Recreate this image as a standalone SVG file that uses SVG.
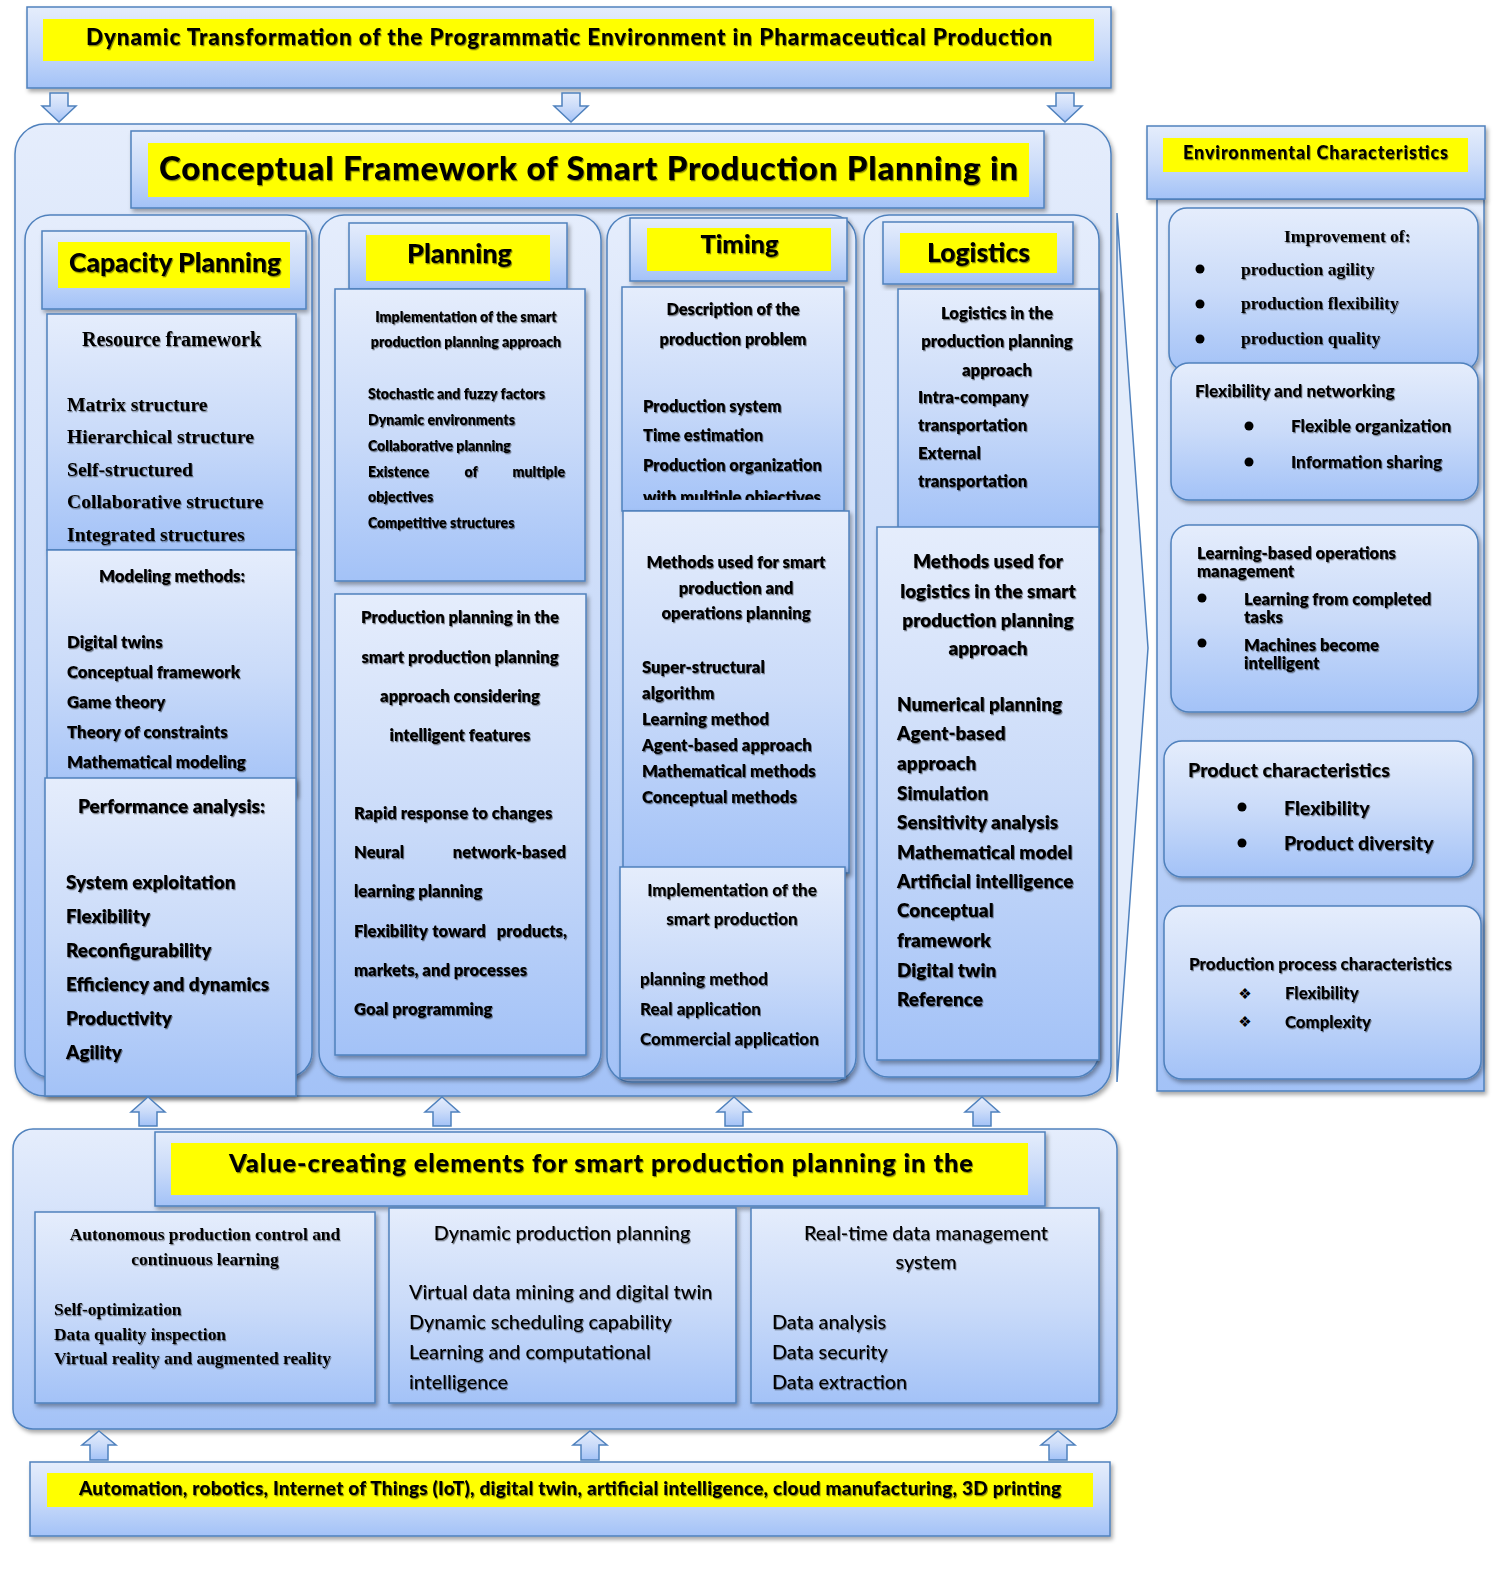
<svg xmlns="http://www.w3.org/2000/svg" width="1500" height="1593" viewBox="0 0 1500 1593">
<defs>
<linearGradient id="g" x1="0" y1="0" x2="0" y2="1">
<stop offset="0" stop-color="#e5edfc"/>
<stop offset="0.5" stop-color="#cadbf9"/>
<stop offset="1" stop-color="#a3c2f7"/>
</linearGradient>
<filter id="bs" x="-5%" y="-5%" width="115%" height="115%">
<feDropShadow dx="2" dy="3" stdDeviation="2" flood-color="#000" flood-opacity="0.35"/>
</filter>
<filter id="ts" x="-3%" y="-30%" width="106%" height="160%">
<feDropShadow dx="1" dy="1.3" stdDeviation="0.7" flood-color="#000" flood-opacity="0.45"/>
</filter>
<clipPath id="cdesc"><rect x="622" y="287" width="222" height="213"/></clipPath>
</defs>
<style>
.b{fill:url(#g);stroke:#4f81bd;stroke-width:1.5;filter:url(#bs)}
.y{fill:#ffff00}
.f{font-family:Lato,"Liberation Sans",sans-serif;font-weight:800;fill:#000;filter:url(#ts)}
.s{font-family:"Liberation Serif",serif;font-weight:700;fill:#000;filter:url(#ts)}
.r{font-weight:500}
.k{font-weight:900}
.c{text-anchor:middle}
.e{text-anchor:end}
.a{fill:url(#g);stroke:#4f81bd;stroke-width:1.5}
.d{fill:#000}
</style>

<g id="top-environment">
<rect class="b" x="27" y="7" width="1084" height="81"/>
<rect class="y" x="43" y="19" width="1051" height="42"/>
<text class="f c k" x="569" y="45" font-size="22.5" textLength="966">Dynamic Transformation of the Programmatic Environment in Pharmaceutical Production</text>
</g>

<g id="framework">
<rect class="b" x="15" y="124" width="1096" height="972" rx="30"/>
<polygon points="1117,213 1148,648 1117,1082" fill="#e3ecfb" stroke="#4f81bd" stroke-width="1.5"/>
<rect class="b" x="131" y="131" width="913" height="77"/>
<rect class="y" x="148" y="143" width="881" height="54"/>
<text class="f c k" x="588.5" y="180" font-size="33" textLength="859">Conceptual Framework of Smart Production Planning in</text>
</g>

<g id="capacity-planning">
<rect class="b" x="25" y="215" width="287" height="862" rx="25"/>
<rect class="b" x="42" y="231" width="264" height="78"/>
<rect class="y" x="58" y="242" width="232" height="46"/>
<text class="f c k" x="175" y="272" font-size="26.5">Capacity Planning</text>
</g>
<g id="resource-framework">
<rect class="b" x="47" y="314" width="249" height="236"/>
<text class="s c" x="171.5" y="346" font-size="20">Resource framework</text>
<text class="s" font-size="19.6"><tspan x="67" y="411">Matrix structure</tspan><tspan x="67" y="443">Hierarchical structure</tspan><tspan x="67" y="476">Self-structured</tspan><tspan x="67" y="508">Collaborative structure</tspan><tspan x="67" y="541">Integrated structures</tspan></text>
</g>
<g id="modeling-methods">
<rect class="b" x="47" y="550" width="249" height="245"/>
<text class="f c" x="172" y="582" font-size="16.8">Modeling methods:</text>
<text class="f" font-size="16.8"><tspan x="67" y="648">Digital twins</tspan><tspan x="67" y="678">Conceptual framework</tspan><tspan x="67" y="708">Game theory</tspan><tspan x="67" y="738">Theory of constraints</tspan><tspan x="67" y="768">Mathematical modeling</tspan></text>
</g>
<g id="performance-analysis">
<rect class="b" x="45" y="778" width="251" height="318"/>
<text class="f c" x="171.5" y="813" font-size="19">Performance analysis:</text>
<text class="f" font-size="18.9"><tspan x="66" y="889">System exploitation</tspan><tspan x="66" y="923">Flexibility</tspan><tspan x="66" y="957">Reconfigurability</tspan><tspan x="66" y="991">Efficiency and dynamics</tspan><tspan x="66" y="1025">Productivity</tspan><tspan x="66" y="1059">Agility</tspan></text>
</g>

<g id="planning">
<rect class="b" x="319" y="215" width="282" height="862" rx="25"/>
<rect class="b" x="349" y="223" width="218" height="66"/>
<rect class="y" x="366" y="235" width="184" height="46"/>
<text class="f c k" x="459.5" y="263" font-size="27">Planning</text>
</g>
<g id="planning-implementation">
<rect class="b" x="335" y="289" width="250" height="292"/>
<text class="f c" font-size="14.1"><tspan x="466" y="322">Implementation of the smart</tspan><tspan x="466" y="347">production planning approach</tspan></text>
<text class="f" font-size="14.1"><tspan x="368" y="399">Stochastic and fuzzy factors</tspan><tspan x="368" y="425">Dynamic environments</tspan><tspan x="368" y="451">Collaborative planning</tspan><tspan x="368" y="477">Existence</tspan><tspan x="368" y="502">objectives</tspan><tspan x="368" y="528">Competitive structures</tspan></text>
<text class="f c" x="471" y="477" font-size="14.1">of</text>
<text class="f e" x="565" y="477" font-size="14.1">multiple</text>
</g>
<g id="planning-production">
<rect class="b" x="335" y="594" width="251" height="461"/>
<text class="f c" font-size="16.6"><tspan x="460" y="623">Production planning in the</tspan><tspan x="460" y="663">smart production planning</tspan><tspan x="460" y="702">approach considering</tspan><tspan x="460" y="741">intelligent features</tspan></text>
<text class="f" font-size="16.6"><tspan x="354" y="819">Rapid response to changes</tspan><tspan x="354" y="858">Neural</tspan><tspan x="354" y="897">learning planning</tspan><tspan x="354" y="937">Flexibility</tspan><tspan x="354" y="976">markets, and processes</tspan><tspan x="354" y="1015">Goal programming</tspan></text>
<text class="f e" x="566" y="858" font-size="16.6">network-based</text>
<text class="f c" x="459" y="937" font-size="16.6">toward</text>
<text class="f e" x="567" y="937" font-size="16.6">products,</text>
</g>

<g id="timing">
<rect class="b" x="607" y="215" width="249" height="867" rx="25"/>
<rect class="b" x="630" y="218" width="217" height="63"/>
<rect class="y" x="647" y="228" width="184" height="43"/>
<text class="f c k" x="739.5" y="253" font-size="25.5">Timing</text>
</g>
<g id="timing-description">
<rect class="b" x="622" y="287" width="222" height="224"/>
<text class="f c" font-size="16.4"><tspan x="733" y="315">Description of the</tspan><tspan x="733" y="345">production problem</tspan></text>
<g clip-path="url(#cdesc)"><text class="f" font-size="16.4"><tspan x="643" y="412">Production system</tspan><tspan x="643" y="441">Time estimation</tspan><tspan x="643" y="471">Production organization</tspan><tspan x="643" y="503">with multiple objectives</tspan></text></g>
</g>
<g id="timing-methods">
<rect class="b" x="623" y="511" width="226" height="362"/>
<text class="f c" font-size="16.7"><tspan x="736" y="568">Methods used for smart</tspan><tspan x="736" y="594">production and</tspan><tspan x="736" y="619">operations planning</tspan></text>
<text class="f" font-size="16.7"><tspan x="642" y="673">Super-structural</tspan><tspan x="642" y="699">algorithm</tspan><tspan x="642" y="725">Learning method</tspan><tspan x="642" y="751">Agent-based approach</tspan><tspan x="642" y="777">Mathematical methods</tspan><tspan x="642" y="803">Conceptual methods</tspan></text>
</g>
<g id="timing-implementation">
<rect class="b" x="620" y="867" width="225" height="211"/>
<text class="f c k" font-size="17"><tspan x="732" y="896">Implementation of the</tspan><tspan x="732" y="925">smart production</tspan></text>
<text class="f k" font-size="17"><tspan x="640" y="985">planning method</tspan><tspan x="640" y="1015">Real application</tspan><tspan x="640" y="1045">Commercial application</tspan></text>
</g>

<g id="logistics">
<rect class="b" x="864" y="215" width="235" height="862" rx="25"/>
<rect class="b" x="883" y="222" width="190" height="62"/>
<rect class="y" x="900" y="233" width="157" height="40"/>
<text class="f c k" x="978.5" y="262" font-size="26.5">Logistics</text>
</g>
<g id="logistics-approach">
<rect class="b" x="898" y="289" width="201" height="239"/>
<text class="f c" font-size="16.7"><tspan x="997" y="319">Logistics in the</tspan><tspan x="997" y="347">production planning</tspan><tspan x="997" y="376">approach</tspan></text>
<text class="f" font-size="16.7"><tspan x="918" y="403">Intra-company</tspan><tspan x="918" y="431">transportation</tspan><tspan x="918" y="459">External</tspan><tspan x="918" y="487">transportation</tspan></text>
</g>
<g id="logistics-methods">
<rect class="b" x="877" y="527" width="222" height="533"/>
<text class="f c" font-size="18.9"><tspan x="988" y="568">Methods used for</tspan><tspan x="988" y="598">logistics in the smart</tspan><tspan x="988" y="627">production planning</tspan><tspan x="988" y="655">approach</tspan></text>
<text class="f" font-size="18.9"><tspan x="897" y="711">Numerical planning</tspan><tspan x="897" y="740">Agent-based</tspan><tspan x="897" y="770">approach</tspan><tspan x="897" y="800">Simulation</tspan><tspan x="897" y="829">Sensitivity analysis</tspan><tspan x="897" y="859">Mathematical model</tspan><tspan x="897" y="888">Artificial intelligence</tspan><tspan x="897" y="917">Conceptual</tspan><tspan x="897" y="947">framework</tspan><tspan x="897" y="977">Digital twin</tspan><tspan x="897" y="1006">Reference</tspan></text>
</g>

<g id="environmental-characteristics">
<rect class="b" x="1157" y="199" width="327" height="892"/>
<rect class="b" x="1147" y="126" width="338" height="73"/>
<rect class="y" x="1163" y="138" width="305" height="34"/>
<text class="f c k" x="1315.5" y="159" font-size="18" textLength="265">Environmental Characteristics</text>
</g>
<g id="env-improvement">
<rect class="b" x="1169" y="208" width="309" height="163" rx="18"/>
<text class="s" x="1284" y="242" font-size="17.5">Improvement of:</text>
<circle class="d" cx="1200" cy="269" r="4.5"/><circle class="d" cx="1200" cy="304" r="4.5"/><circle class="d" cx="1200" cy="339" r="4.5"/>
<text class="s" font-size="17.5"><tspan x="1241" y="275">production agility</tspan><tspan x="1241" y="309">production flexibility</tspan><tspan x="1241" y="344">production quality</tspan></text>
</g>
<g id="env-flexibility">
<rect class="b" x="1171" y="363" width="307" height="137" rx="18"/>
<text class="f k" x="1195" y="397" font-size="17.2">Flexibility and networking</text>
<circle class="d" cx="1249" cy="426" r="4.5"/><circle class="d" cx="1249" cy="462" r="4.5"/>
<text class="f k" font-size="17.2"><tspan x="1291" y="432">Flexible organization</tspan><tspan x="1291" y="468">Information sharing</tspan></text>
</g>
<g id="env-learning">
<rect class="b" x="1171" y="525" width="307" height="187" rx="18"/>
<text class="f" font-size="16.6"><tspan x="1197" y="559">Learning-based operations</tspan><tspan x="1197" y="577">management</tspan></text>
<circle class="d" cx="1202" cy="598" r="4.5"/><circle class="d" cx="1202" cy="643" r="4.5"/>
<text class="f" font-size="16.6"><tspan x="1244" y="605">Learning from completed</tspan><tspan x="1244" y="623">tasks</tspan><tspan x="1244" y="651">Machines become</tspan><tspan x="1244" y="669">intelligent</tspan></text>
</g>
<g id="env-product">
<rect class="b" x="1164" y="741" width="309" height="136" rx="18"/>
<text class="f k" x="1188" y="777" font-size="19.6">Product characteristics</text>
<circle class="d" cx="1242" cy="807" r="4.5"/><circle class="d" cx="1242" cy="843" r="4.5"/>
<text class="f k" font-size="19.5"><tspan x="1284" y="815">Flexibility</tspan><tspan x="1284" y="850">Product diversity</tspan></text>
</g>
<g id="env-process">
<rect class="b" x="1164" y="906" width="317" height="173" rx="18"/>
<text class="f k" x="1189" y="970" font-size="17.1">Production process characteristics</text>
<text x="1245" y="999" font-size="15" font-family="'DejaVu Sans',sans-serif" text-anchor="middle">❖</text>
<text x="1245" y="1027" font-size="15" font-family="'DejaVu Sans',sans-serif" text-anchor="middle">❖</text>
<text class="f k" font-size="16.8"><tspan x="1285" y="999">Flexibility</tspan><tspan x="1285" y="1028">Complexity</tspan></text>
</g>

<g id="value-creating">
<rect class="b" x="13" y="1129" width="1104" height="300" rx="20"/>
<rect class="b" x="155" y="1132" width="890" height="74"/>
<rect class="y" x="171" y="1143" width="857" height="52"/>
<text class="f c k" x="601" y="1172" font-size="25.5" textLength="744">Value-creating elements for smart production planning in the</text>
</g>
<g id="autonomous-control">
<rect class="b" x="35" y="1212" width="340" height="191"/>
<text class="s c" font-size="17.4"><tspan x="205" y="1240">Autonomous production control and</tspan><tspan x="205" y="1265">continuous learning</tspan></text>
<text class="s" font-size="17.4"><tspan x="54" y="1315">Self-optimization</tspan><tspan x="54" y="1340">Data quality inspection</tspan><tspan x="54" y="1364">Virtual reality and augmented reality</tspan></text>
</g>
<g id="dynamic-planning">
<rect class="b" x="389" y="1208" width="347" height="195"/>
<text class="f c r" x="562" y="1240" font-size="19.8">Dynamic production planning</text>
<text class="f r" font-size="19.8"><tspan x="409" y="1299">Virtual data mining and digital twin</tspan><tspan x="409" y="1329">Dynamic scheduling capability</tspan><tspan x="409" y="1359">Learning and computational</tspan><tspan x="409" y="1389">intelligence</tspan></text>
</g>
<g id="realtime-data">
<rect class="b" x="751" y="1208" width="348" height="195"/>
<text class="f c r" font-size="19.8"><tspan x="926" y="1240">Real-time data management</tspan><tspan x="926" y="1269">system</tspan></text>
<text class="f r" font-size="19.8"><tspan x="772" y="1329">Data analysis</tspan><tspan x="772" y="1359">Data security</tspan><tspan x="772" y="1389">Data extraction</tspan></text>
</g>

<g id="technologies">
<rect class="b" x="30" y="1462" width="1080" height="74"/>
<rect class="y" x="47" y="1473" width="1046" height="34"/>
<text class="f c k" x="570" y="1495" font-size="19" textLength="982">Automation, robotics, Internet of Things (IoT), digital twin, artificial intelligence, cloud manufacturing, 3D printing</text>
</g>

<g id="connectors">
<path class="a" d="M50,93H68V106H76L59,122L42,106H50Z"/>
<path class="a" d="M562,93H580V106H588L571,122L554,106H562Z"/>
<path class="a" d="M1056,93H1074V106H1082L1065,122L1048,106H1056Z"/>
<path class="a" d="M148,1097L165,1112H157V1126H139V1112H131Z"/>
<path class="a" d="M442,1097L459,1112H451V1126H433V1112H425Z"/>
<path class="a" d="M734,1097L751,1112H743V1126H725V1112H717Z"/>
<path class="a" d="M982,1097L999,1112H991V1126H973V1112H965Z"/>
<path class="a" d="M99,1431L116,1445H108V1460H90V1445H82Z"/>
<path class="a" d="M590,1431L607,1445H599V1460H581V1445H573Z"/>
<path class="a" d="M1058,1431L1075,1445H1067V1460H1049V1445H1041Z"/>
</g>
</svg>
